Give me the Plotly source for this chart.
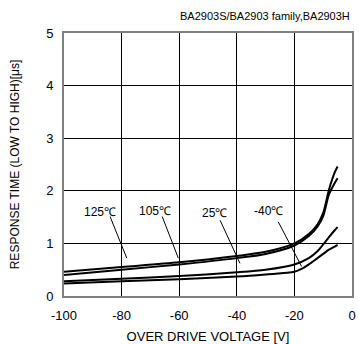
import plotly.graph_objects as go

title_text = "BA2903S/BA2903 family,BA2903H"
x_title = "OVER DRIVE VOLTAGE [V]"
y_title = "RESPONSE TIME (LOW TO HIGH)[μs]"

x_c1 = [-100, -80, -60, -40, -30, -20, -15, -12, -10, -8, -6, -5]
y_c1 = [0.46, 0.55, 0.64, 0.76, 0.84, 1.00, 1.18, 1.36, 1.58, 2.02, 2.35, 2.46]
x_c2 = [-100, -80, -60, -40, -30, -20, -15, -12, -10, -8, -6, -5]
y_c2 = [0.40, 0.50, 0.60, 0.72, 0.80, 0.96, 1.14, 1.32, 1.52, 1.93, 2.15, 2.24]
x_c3 = [-100, -80, -60, -40, -30, -20, -15, -12, -10, -8, -6, -5]
y_c3 = [0.28, 0.33, 0.38, 0.45, 0.50, 0.60, 0.72, 0.85, 0.98, 1.12, 1.25, 1.31]
x_c4 = [-100, -80, -60, -40, -30, -20, -17, -15, -12, -10, -8, -6, -5]
y_c4 = [0.24, 0.28, 0.32, 0.37, 0.41, 0.46, 0.53, 0.60, 0.72, 0.80, 0.88, 0.94, 0.97]

labels = ["125℃", "105℃", "25℃", "-40℃"]
label_x = [-87.5, -68.4, -47.6, -29.1]
label_y = [1.60, 1.62, 1.57, 1.62]
lead_x0 = [-84.0, -65.9, -45.8, -25.6]
lead_y0 = [1.51, 1.51, 1.44, 1.41]
lead_x1 = [-78.2, -60.3, -38.9, -17.5]
lead_y1 = [0.72, 0.72, 0.62, 0.56]

x_ticks = [-100, -80, -60, -40, -20, 0]
x_tick_text = ["-100", "-80", "-60", "-40", "-20", "0"]
y_ticks = [0, 1, 2, 3, 4, 5]
y_tick_text = ["0", "1", "2", "3", "4", "5"]

font = "Liberation Sans, Arial, sans-serif"
fig = go.Figure()
for xs, ys in [(x_c1, y_c1), (x_c2, y_c2), (x_c3, y_c3), (x_c4, y_c4)]:
    fig.add_trace(go.Scatter(x=xs, y=ys, mode="lines",
                             line=dict(color="black", width=2, shape="spline", smoothing=0.8),
                             showlegend=False, hoverinfo="skip"))
for i in range(len(labels)):
    fig.add_trace(go.Scatter(x=[lead_x0[i], lead_x1[i]], y=[lead_y0[i], lead_y1[i]], mode="lines",
                             line=dict(color="black", width=1), showlegend=False, hoverinfo="skip"))
    fig.add_annotation(x=label_x[i], y=label_y[i], text=labels[i], showarrow=False,
                       font=dict(size=12, color="black", family=font))

fig.add_annotation(x=1, y=1, xref="paper", yref="paper", xanchor="right", yanchor="bottom",
                   yshift=9, text=title_text, showarrow=False,
                   font=dict(size=11, color="black", family=font))

fig.update_xaxes(range=[-100, 0], tickvals=x_ticks, ticktext=x_tick_text, ticks="", showgrid=True,
                 gridcolor="black", gridwidth=1, zeroline=False, showline=True, linecolor="#808080",
                 linewidth=2, mirror=True, tickfont=dict(size=13, color="black", family=font),
                 ticklabelstandoff=6, automargin=False,
                 title=dict(text=x_title, font=dict(size=13, color="black", family=font), standoff=16))
fig.update_yaxes(range=[0, 5], tickvals=y_ticks, ticktext=y_tick_text, ticks="", showgrid=True,
                 gridcolor="black", gridwidth=1, zeroline=False, showline=True, linecolor="#808080",
                 linewidth=2, mirror=True, tickfont=dict(size=13, color="black", family=font),
                 ticklabelstandoff=6, automargin=False,
                 title=dict(text=y_title, font=dict(size=12, color="black", family=font), standoff=24))
fig.update_layout(width=359, height=344, margin=dict(l=64, r=7, t=33, b=48),
                  plot_bgcolor="white", paper_bgcolor="white")
fig.write_html("out.html", config={"displayModeBar": False})

with open("out.html", "r", encoding="utf-8") as f:
    html = f.read()
html = html.replace("<head>", "<head><style>html,body{margin:0;padding:0;overflow:hidden}</style>", 1)
with open("out.html", "w", encoding="utf-8") as f:
    f.write(html)
